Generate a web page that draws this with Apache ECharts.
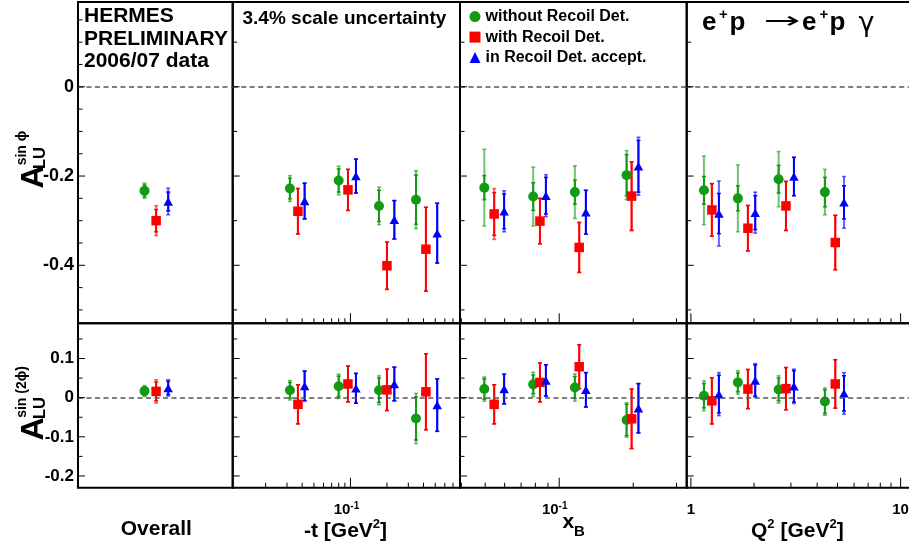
<!DOCTYPE html>
<html><head><meta charset="utf-8">
<script src="https://cdn.jsdelivr.net/npm/echarts@6/dist/echarts.min.js"></script>
<style>html,body{margin:0;padding:0;background:#fff}#c{width:909px;height:548px}</style>
</head><body><div id="c"></div><script>
// ---------- DATA ----------
const seriesNames = ['without Recoil Det.', 'with Recoil Det.', 'in Recoil Det. accept.'];

// Overall
const overallX = [0.43, 0.505, 0.583];
const overallSinPhi = [-0.233, -0.300, -0.257];
const overallSinPhiTot = [0.017, 0.0335, 0.030];
const overallSinPhiStat = [0.013, 0.025, 0.021];
const overallSin2Phi = [0.017, 0.016, 0.025];
const overallSin2PhiTot = [0.014, 0.030, 0.021];
const overallSin2PhiStat = [0.011, 0.024, 0.017];

// -t bins
const tX_noRD = [0.0317, 0.080, 0.172, 0.347];
const tX_RD = [0.0369, 0.0954, 0.200, 0.419];
const tX_acc = [0.0419, 0.111, 0.230, 0.519];
const tSinPhi_noRD = [-0.228, -0.210, -0.267, -0.253];
const tSinPhiTot_noRD = [0.029, 0.032, 0.042, 0.065];
const tSinPhiStat_noRD = [0.023, 0.026, 0.035, 0.055];
const tSinPhi_RD = [-0.279, -0.231, -0.401, -0.364];
const tSinPhiTot_RD = [0.051, 0.046, 0.053, 0.094];
const tSinPhi_acc = [-0.256, -0.200, -0.298, -0.328];
const tSinPhiTot_acc = [0.040, 0.038, 0.043, 0.067];
const tSin2Phi_noRD = [0.019, 0.029, 0.019, -0.053];
const tSin2PhiTot_noRD = [0.025, 0.031, 0.037, 0.064];
const tSin2PhiStat_noRD = [0.020, 0.026, 0.031, 0.055];
const tSin2Phi_RD = [-0.017, 0.035, 0.020, 0.015];
const tSin2PhiTot_RD = [0.050, 0.046, 0.053, 0.097];
const tSin2Phi_acc = [0.030, 0.024, 0.035, -0.019];
const tSin2PhiTot_acc = [0.038, 0.038, 0.043, 0.067];

// x_B bins
const xbX_noRD = [0.0496, 0.0784, 0.1158, 0.188];
const xbX_RD = [0.0544, 0.0835, 0.1206, 0.197];
const xbX_acc = [0.0597, 0.0883, 0.1284, 0.210];
const xbSinPhi_noRD = [-0.226, -0.246, -0.236, -0.198];
const xbSinPhiTot_noRD = [0.086, 0.066, 0.059, 0.055];
const xbSinPhiStat_noRD = [0.027, 0.031, 0.027, 0.046];
const xbSinPhi_RD = [-0.285, -0.301, -0.360, -0.245];
const xbSinPhiTot_RD = [0.057, 0.051, 0.056, 0.077];
const xbSinPhiStat_RD = [0.048, 0.051, 0.056, 0.077];
const xbSinPhi_acc = [-0.279, -0.244, -0.281, -0.178];
const xbSinPhiTot_acc = [0.046, 0.047, 0.049, 0.065];
const xbSinPhiStat_acc = [0.039, 0.041, 0.049, 0.058];
const xbSin2Phi_noRD = [0.022, 0.034, 0.026, -0.057];
const xbSin2PhiTot_noRD = [0.031, 0.031, 0.035, 0.044];
const xbSin2PhiStat_noRD = [0.026, 0.024, 0.028, 0.040];
const xbSin2Phi_RD = [-0.017, 0.039, 0.079, -0.054];
const xbSin2PhiTot_RD = [0.050, 0.050, 0.056, 0.076];
const xbSin2Phi_acc = [0.022, 0.044, 0.020, -0.027];
const xbSin2PhiTot_acc = [0.038, 0.040, 0.044, 0.063];

// Q^2 bins
const q2X_noRD = [1.154, 1.675, 2.62, 4.355];
const q2X_RD = [1.259, 1.87, 2.84, 4.88];
const q2X_acc = [1.36, 2.026, 3.10, 5.37];
const q2SinPhi_noRD = [-0.232, -0.250, -0.207, -0.236];
const q2SinPhiTot_noRD = [0.077, 0.075, 0.062, 0.051];
const q2SinPhiStat_noRD = [0.031, 0.028, 0.031, 0.033];
const q2SinPhi_RD = [-0.276, -0.317, -0.267, -0.349];
const q2SinPhiTot_RD = [0.059, 0.051, 0.055, 0.061];
const q2SinPhi_acc = [-0.284, -0.282, -0.201, -0.259];
const q2SinPhiTot_acc = [0.073, 0.046, 0.043, 0.058];
const q2SinPhiStat_acc = [0.045, 0.038, 0.043, 0.037];
const q2Sin2Phi_noRD = [0.005, 0.039, 0.021, -0.010];
const q2Sin2PhiTot_noRD = [0.038, 0.030, 0.035, 0.035];
const q2Sin2PhiStat_noRD = [0.031, 0.024, 0.029, 0.030];
const q2Sin2Phi_RD = [-0.008, 0.022, 0.023, 0.035];
const q2Sin2PhiTot_RD = [0.059, 0.050, 0.054, 0.062];
const q2Sin2Phi_acc = [0.009, 0.044, 0.029, 0.011];
const q2Sin2PhiTot_acc = [0.055, 0.043, 0.044, 0.053];
const q2Sin2PhiStat_acc = [0.048, 0.040, 0.040, 0.045];

// ticks
const tTickValues = [0.02, 0.03, 0.04, 0.05, 0.06, 0.07, 0.08, 0.09, 0.1, 0.2, 0.3, 0.4, 0.5, 0.6, 0.7];
const tMajorTicks = [0.1];
const xbTickValues = [0.04, 0.05, 0.06, 0.07, 0.08, 0.09, 0.1, 0.2, 0.3];
const xbMajorTicks = [0.1];
const q2TickValues = [1, 2, 3, 4, 5, 6, 7, 8, 9, 10];
const q2MajorTicks = [1, 10];
const yTicksTopFine = [-0.5, -0.45, -0.4, -0.35, -0.3, -0.25, -0.2, -0.15, -0.1, -0.05, 0, 0.05, 0.1, 0.15];
const yTicksTopCoarse = [-0.5, -0.4, -0.3, -0.2, -0.1, 0, 0.1];
const yLabelsTop = [-0.4, -0.2, 0];
const yTicksBottom = [-0.2, -0.15, -0.1, -0.05, 0, 0.05, 0.1, 0.15];
const yLabelsBottom = [-0.2, -0.1, 0, 0.1];

// ---------- STYLE ----------
const FONT = '"Liberation Sans", Arial, Helvetica, sans-serif';
const SYMFONT = '"DejaVu Sans", sans-serif';
const colors = ['#139a13', '#ff0000', '#0000ff'];
const symbols = ['circle', 'rect', 'triangle'];
const symbolSizes = [10, 9.5, [9.5, 8.5]];

function pts(xs, ys, tot, stat) { return xs.map((x, i) => [x, ys[i], tot[i], stat[i]]); }

const panelData = [
  [
    [0, 1, 2].map(k => [[overallX[k], overallSinPhi[k], overallSinPhiTot[k], overallSinPhiStat[k]]]),
    [pts(tX_noRD, tSinPhi_noRD, tSinPhiTot_noRD, tSinPhiStat_noRD),
     pts(tX_RD, tSinPhi_RD, tSinPhiTot_RD, tSinPhiTot_RD),
     pts(tX_acc, tSinPhi_acc, tSinPhiTot_acc, tSinPhiTot_acc)],
    [pts(xbX_noRD, xbSinPhi_noRD, xbSinPhiTot_noRD, xbSinPhiStat_noRD),
     pts(xbX_RD, xbSinPhi_RD, xbSinPhiTot_RD, xbSinPhiStat_RD),
     pts(xbX_acc, xbSinPhi_acc, xbSinPhiTot_acc, xbSinPhiStat_acc)],
    [pts(q2X_noRD, q2SinPhi_noRD, q2SinPhiTot_noRD, q2SinPhiStat_noRD),
     pts(q2X_RD, q2SinPhi_RD, q2SinPhiTot_RD, q2SinPhiTot_RD),
     pts(q2X_acc, q2SinPhi_acc, q2SinPhiTot_acc, q2SinPhiStat_acc)]
  ],
  [
    [0, 1, 2].map(k => [[overallX[k], overallSin2Phi[k], overallSin2PhiTot[k], overallSin2PhiStat[k]]]),
    [pts(tX_noRD, tSin2Phi_noRD, tSin2PhiTot_noRD, tSin2PhiStat_noRD),
     pts(tX_RD, tSin2Phi_RD, tSin2PhiTot_RD, tSin2PhiTot_RD),
     pts(tX_acc, tSin2Phi_acc, tSin2PhiTot_acc, tSin2PhiTot_acc)],
    [pts(xbX_noRD, xbSin2Phi_noRD, xbSin2PhiTot_noRD, xbSin2PhiStat_noRD),
     pts(xbX_RD, xbSin2Phi_RD, xbSin2PhiTot_RD, xbSin2PhiTot_RD),
     pts(xbX_acc, xbSin2Phi_acc, xbSin2PhiTot_acc, xbSin2PhiTot_acc)],
    [pts(q2X_noRD, q2Sin2Phi_noRD, q2Sin2PhiTot_noRD, q2Sin2PhiStat_noRD),
     pts(q2X_RD, q2Sin2Phi_RD, q2Sin2PhiTot_RD, q2Sin2PhiTot_RD),
     pts(q2X_acc, q2Sin2Phi_acc, q2Sin2PhiTot_acc, q2Sin2PhiStat_acc)]
  ]
];

const cols = [
  { left: 78, width: 154.7, type: 'value', min: 0, max: 1, ticks: [], majors: [], labelPad: 0 },
  { left: 232.7, width: 227.3, type: 'log', min: 0.0107, max: 0.8, ticks: tTickValues, majors: tMajorTicks, labelPad: 8 },
  { left: 460, width: 226.7, type: 'log', min: 0.0395, max: 0.33, ticks: xbTickValues, majors: xbMajorTicks, labelPad: 9 },
  { left: 686.7, width: 233.5, type: 'log', min: 0.955, max: 12.4, ticks: q2TickValues, majors: q2MajorTicks, labelPad: 0 }
];
const rows = [
  { top: 2, height: 321.3, min: -0.53, max: 0.19, labels: yLabelsTop, labelSize: 18 },
  { top: 323.3, height: 164.4, min: -0.23, max: 0.19, labels: yLabelsBottom, labelSize: 17 }
];

function tickRender(params, api) {
  const p = api.coord([api.value(0), api.value(1)]);
  const kind = api.value(2), len = api.value(3);
  const shape = kind === 0
    ? { x1: p[0], y1: p[1], x2: p[0], y2: p[1] - len }
    : { x1: p[0], y1: p[1], x2: p[0] + len, y2: p[1] };
  return { type: 'line', shape: shape, style: { stroke: '#000', lineWidth: 1 } };
}

function errRender(params, api) {
  const x = api.value(0), y = api.value(1), tot = api.value(2), stat = api.value(3);
  const c = api.coord([x, y]);
  const a = api.coord([x, y + tot])[1], b = api.coord([x, y - tot])[1];
  const s1 = api.coord([x, y + stat])[1], s2 = api.coord([x, y - stat])[1];
  const col = api.visual('color');
  const L = (x1, y1, x2, y2, op, w) => ({ type: 'line', shape: { x1, y1, x2, y2 }, style: { stroke: col, lineWidth: w, opacity: op } });
  const cx = c[0];
  return {
    type: 'group',
    children: [
      L(cx, a, cx, b, 0.6, 2),
      L(cx - 2, a, cx + 2, a, 0.6, 1.5),
      L(cx - 2, b, cx + 2, b, 0.6, 1.5),
      L(cx, s1, cx, s2, 1, 2),
      L(cx - 2, s1, cx + 2, s1, 1, 1.5),
      L(cx - 2, s2, cx + 2, s2, 1, 1.5)
    ]
  };
}

function isPow10(v) { const l = Math.log10(v); return Math.abs(l - Math.round(l)) < 1e-6; }

const grids = [], xAxes = [], yAxes = [], series = [];
rows.forEach((row, r) => {
  cols.forEach((col, c) => {
    const gi = r * 4 + c;
    grids.push({ left: col.left, top: row.top, width: col.width, height: row.height, show: true,
      borderColor: '#000', borderWidth: 2, backgroundColor: 'transparent', containLabel: false, outerBoundsMode: 'none' });
    const showX = r === 1 && c > 0;
    xAxes.push({
      gridIndex: gi, type: col.type, logBase: 10, min: col.min, max: col.max,
      axisLine: { show: false }, axisTick: { show: false }, splitLine: { show: false }, minorTick: { show: false },
      axisLabel: showX ? {
        show: true, interval: 0, margin: 13.5, color: '#000', padding: [0, col.labelPad, 0, 0],
        showMinLabel: true, showMaxLabel: true, hideOverlap: false,
        formatter: v => {
          if (!isPow10(v)) return '';
          const e = Math.round(Math.log10(v));
          if (e === 0) return '{a|1}';
          if (e === 1) return '{a|10}';
          return '{a|10}{s|' + e + '}';
        },
        rich: {
          a: { fontFamily: FONT, fontWeight: 'bold', fontSize: 15, lineHeight: 18, color: '#000' },
          s: { fontFamily: FONT, fontWeight: 'bold', fontSize: 10, lineHeight: 10, verticalAlign: 'top', color: '#000' }
        }
      } : { show: false }
    });
    yAxes.push({
      gridIndex: gi, type: 'value', min: row.min, max: row.max,
      axisLine: { show: false }, axisTick: { show: false }, splitLine: { show: false },
      axisLabel: c === 0 ? {
        show: true, customValues: row.labels, margin: 4, color: '#000',
        fontFamily: FONT, fontWeight: 'bold', fontSize: row.labelSize
      } : { show: false }
    });
    // tick marks
    const tickData = [];
    col.ticks.forEach(v => tickData.push([v, row.min, 0, col.majors.indexOf(v) >= 0 ? 10 : 5]));
    const yt = r === 0 ? (c === 0 ? yTicksTopFine : yTicksTopCoarse) : yTicksBottom;
    yt.forEach(v => tickData.push([col.min, v, 1, row.labels.indexOf(v) >= 0 ? 7 : 4.5]));
    series.push({ type: 'custom', xAxisIndex: gi, yAxisIndex: gi, renderItem: tickRender, data: tickData,
      silent: true, z: 6, clip: false });
    // points
    for (let k = 0; k < 3; k++) {
      const d = panelData[r][c][k];
      series.push({ type: 'custom', xAxisIndex: gi, yAxisIndex: gi, renderItem: errRender, data: d,
        itemStyle: { color: colors[k] }, silent: true, z: 3 });
      const sc = { type: 'scatter', name: seriesNames[k], xAxisIndex: gi, yAxisIndex: gi,
        data: d.map(p => [p[0], p[1]]), symbol: symbols[k], symbolSize: symbolSizes[k],
        itemStyle: { color: colors[k], opacity: 1 }, z: 4, silent: true };
      if (k === 0) {
        sc.markLine = { silent: true, symbol: ['none', 'none'], label: { show: false }, animation: false,
          lineStyle: { type: [5, 3.5], color: '#555', width: 1.5 }, data: [{ yAxis: 0 }] };
      }
      series.push(sc);
    }
  });
});

function T(x, y, text, fs, extra) {
  const st = Object.assign({ text: text, fontSize: fs, fontFamily: FONT, fontWeight: 'bold', fill: '#000',
    align: 'left', verticalAlign: 'middle' }, (extra && extra.style) || {});
  const el = { type: 'text', x: x, y: y, silent: true, z: 10, style: st };
  if (extra) { ['rotation', 'scaleX', 'scaleY'].forEach(k => { if (extra[k] !== undefined) el[k] = extra[k]; }); }
  return el;
}
const supRich = {
  m: { fontFamily: FONT, fontWeight: 'bold', fontSize: 21, lineHeight: 28, fill: '#000', color: '#000' },
  s: { fontFamily: FONT, fontWeight: 'bold', fontSize: 13, lineHeight: 13, verticalAlign: 'top', fill: '#000', color: '#000' }
};
const R90 = Math.PI / 2;
const graphic = [
  T(84, 16.7, 'HERMES', 21),
  T(84, 38.9, 'PRELIMINARY', 21),
  T(84, 61.5, '2006/07 data', 21),
  T(242.5, 18.4, '3.4% scale uncertainty', 19),
  // reaction
  T(702, 23, 'e', 26),
  T(719, 15, '+', 15),
  T(729.5, 23, 'p', 26),
  T(782, 22.5, '→', 23, { style: { fontFamily: SYMFONT, fontWeight: 'normal', align: 'center' }, scaleX: 1.9 }),
  T(802, 23, 'e', 26),
  T(819.5, 15, '+', 15),
  T(829.5, 23, 'p', 26),
  T(858.5, 24, 'γ', 27, { style: { fontFamily: SYMFONT, fontWeight: 'normal' } }),
  // y titles
  T(33.9, 177, 'A', 32, { rotation: R90, style: { align: 'center' } }),
  T(40, 158, 'LU', 16.5, { rotation: R90, style: { align: 'center' } }),
  T(21.9, 148, 'sin ϕ', 14, { rotation: R90, style: { align: 'center' } }),
  T(33.9, 429, 'A', 32, { rotation: R90, style: { align: 'center' } }),
  T(40, 408, 'LU', 16.5, { rotation: R90, style: { align: 'center' } }),
  T(21.9, 392, 'sin (2ϕ)', 14, { rotation: R90, style: { align: 'center' } }),
  // x titles
  T(156.3, 529.7, 'Overall', 21, { style: { align: 'center' } }),
  T(304, 531.5, '{m|-t [GeV}{s|2}{m|]}', 21, { style: { rich: supRich } }),
  T(562.5, 522, 'x', 21),
  T(574, 531.5, 'B', 15),
  T(751, 531.5, '{m|Q}{s|2}{m| [GeV}{s|2}{m|]}', 21, { style: { rich: supRich } })
];

const option = {
  animation: false,
  backgroundColor: '#fff',
  textStyle: { fontFamily: FONT },
  grid: grids, xAxis: xAxes, yAxis: yAxes, series: series,
  legend: {
    orient: 'vertical', left: 469.5, top: 7.6, padding: 0, itemWidth: 11, itemHeight: 11, itemGap: 2.5,
    selectedMode: false,
    textStyle: { fontFamily: FONT, fontWeight: 'bold', fontSize: 16, color: '#000', lineHeight: 18 },
    data: seriesNames.map((n, k) => ({ name: n, icon: symbols[k] }))
  },
  graphic: graphic
};
const chart = echarts.init(document.getElementById('c'), null, { renderer: 'canvas' });
chart.setOption(option);
</script></body></html>
